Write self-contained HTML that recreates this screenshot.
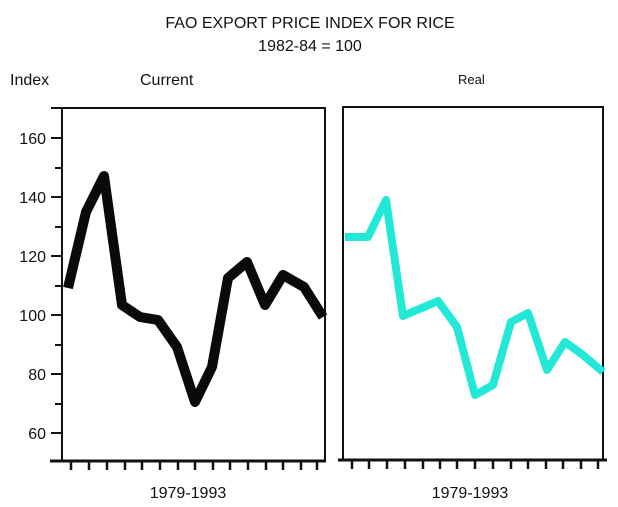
<!DOCTYPE html>
<html><head><style>body{margin:0;background:#fff}svg{display:block}</style></head><body>
<svg width="618" height="507" xmlns="http://www.w3.org/2000/svg" font-family="Liberation Sans, sans-serif">
<rect width="618" height="507" fill="#fff"/>
<text x="310" y="28" font-size="16" text-anchor="middle" fill="#111">FAO EXPORT PRICE INDEX FOR RICE</text>
<text x="310" y="51" font-size="16" text-anchor="middle" fill="#111">1982-84 = 100</text>
<text x="10" y="85" font-size="16" fill="#111">Index</text>
<text x="140" y="85" font-size="16" fill="#111">Current</text>
<text x="458" y="84" font-size="13" fill="#111">Real</text>
<g fill="#111" font-size="16" text-anchor="end">
<text x="46" y="144">160</text><text x="46" y="203">140</text><text x="46" y="262">120</text>
<text x="46" y="321">100</text><text x="46" y="380">80</text><text x="46" y="439">60</text>
</g>
<g stroke="#111" stroke-width="2" fill="none">
<rect x="62" y="108" width="263" height="353"/>
<line x1="50" y1="461" x2="326" y2="461" stroke-width="3"/>
<path d="M51 108H62M51 138H62M55 168H62M51 197H62M55 227H62M51 256H62M55 286H62M51 315H62M55 345H62M51 374H62M55 404H62M51 433H62"/>
<path d="M71 461v9M89 461v9M107 461v9M125 461v9M142 461v9M160 461v9M178 461v9M195 461v9M213 461v9M230 461v9M248 461v9M266 461v9M283 461v9M301 461v9M317 461v9" stroke-width="2.5"/>
<rect x="343" y="107" width="260" height="353"/>
<line x1="338" y1="460" x2="607" y2="460" stroke-width="3"/>
<path d="M352 460v9M369 460v9M387 460v9M405 460v9M423 460v9M440 460v9M457 460v9M475 460v9M493 460v9M511 460v9M528 460v9M546 460v9M563 460v9M581 460v9M598 460v9" stroke-width="2.5"/>
</g>
<polyline fill="none" stroke="#0a0a0a" stroke-width="10" stroke-linejoin="round" points="68,288 86,212 104,176 122,305 140,317 158,320 177,347 195,402 212,367 228,278 247,262 265,305 283,275 304,287 323,317"/>
<polyline fill="none" stroke="#22e8d8" stroke-width="8" stroke-linejoin="round" points="345,237 368,237 386,200 403,316 438,301 457,327 475,395 493,385 511,322 528,313 547,370 565,342 583,355 603,372"/>
<text x="188" y="498" font-size="16" text-anchor="middle" fill="#111">1979-1993</text>
<text x="470" y="498" font-size="16" text-anchor="middle" fill="#111">1979-1993</text>
</svg>
</body></html>
